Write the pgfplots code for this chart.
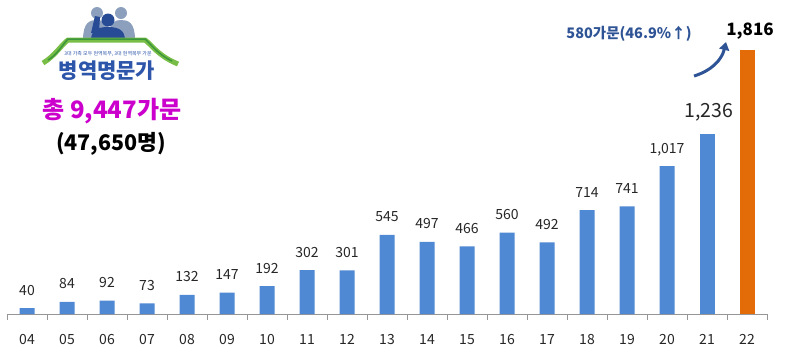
\documentclass[border=0pt]{standalone}
\usepackage{pgfplots}
\pgfplotsset{compat=1.18}
\usepackage{fontspec}
\setmainfont{Noto Sans CJK KR}
\usetikzlibrary{arrows.meta}
\definecolor{barblue}{RGB}{80,137,211}
\definecolor{barorange}{RGB}{227,108,9}
\definecolor{axgray}{RGB}{150,150,150}
\definecolor{lblgray}{RGB}{38,38,38}
\definecolor{annblue}{RGB}{47,84,150}
\definecolor{logoblue}{RGB}{45,85,170}
\definecolor{magenta2}{RGB}{204,0,204}
\definecolor{roofgreen}{RGB}{120,190,70}
\definecolor{roofdark}{RGB}{60,150,60}
\definecolor{figgray}{RGB}{140,160,190}
\definecolor{figblue}{RGB}{40,75,150}
\begin{document}
\begin{tikzpicture}[x=1bp,y=1bp]
\useasboundingbox (0,0) rectangle (788,-352);
% logo decoration
\fill[figgray] (97,-13) circle (6);
\fill[figgray] (121,-13) circle (6);
\fill[figgray] (83,-40) .. controls (83,-22) and (90,-20) .. (97,-20) .. controls (104,-20) and (108,-24) .. (109,-30) -- (110,-40) -- cycle;
\fill[figgray] (108,-40) -- (109,-30) .. controls (112,-22) and (115,-20) .. (121,-20) .. controls (128,-20) and (135,-22) .. (135,-40) -- cycle;
\fill[figblue] (108,-20) circle (6.5);
\fill[figblue] (91,-40) .. controls (91,-30) and (98,-27) .. (108,-27) .. controls (118,-27) and (125,-30) .. (125,-40) -- cycle;
\fill[figblue] (91,-33) -- (95,-16) -- (100,-17) -- (99,-32) -- cycle;
\draw[roofgreen, line width=5bp] (43,-63) .. controls (55,-56) and (62,-44) .. (68,-40) -- (145,-40) .. controls (151,-44) and (158,-56) .. (178,-64);
\draw[roofdark, line width=1.5bp] (48,-60) .. controls (57,-55) and (63,-44) .. (68,-39) -- (145,-39) .. controls (151,-44) and (157,-54) .. (172,-61);
\node[font=\fontsize{5bp}{6bp}\selectfont, text=logoblue] at (108,-54) {3대 가족 모두 현역복무, 3대 현역복무 가문};
\node[font=\fontsize{21bp}{24bp}\selectfont\bfseries, text=logoblue] at (107,-71) {병역명문가};
\node[font=\fontsize{24bp}{28bp}\selectfont\bfseries, text=magenta2] at (112,-111) {총 9,447가문};
\node[font=\fontsize{21.5bp}{25bp}\selectfont\bfseries, text=black] at (111,-144) {(47,650명)};
% annotation
\node[font=\fontsize{14.5bp}{17bp}\selectfont\bfseries, text=annblue] at (629,-34) {580가문(46.9\%↑)};
\draw[annblue, line width=3bp, -{Triangle[length=8bp,width=10bp]}] (694,-76) to[bend right=30] (726,-42);
\begin{axis}[
  at={(7bp,-314bp)}, anchor=south west,
  scale only axis, width=760bp, height=290.7bp,
  xmin=-0.5, xmax=18.5, ymin=0, ymax=2000,
  axis x line*=bottom, axis y line=none,
  x axis line style={axgray, line width=0.8bp, -},
  xtick={0,...,18},
  xticklabels={04,05,06,07,08,09,10,11,12,13,14,15,16,17,18,19,20,21,22},
  minor xtick={-0.5,0.5,...,18.5},
  major tick length=0pt, minor tick length=6bp, tick align=outside,
  minor tick style={axgray, line width=0.8bp},
  ytick=\empty,
  xticklabel style={anchor=base, yshift=-30bp, font=\fontsize{14bp}{16bp}\selectfont, text=lblgray},
  /pgf/number format/.cd, fixed, precision=0, 1000 sep={,}, assume math mode=true,
  /pgfplots/.cd,
  ybar, bar width=15bp, bar shift=0pt,
  nodes near coords,
  clip=false,
]
\addplot[fill=barblue, draw=none,
  nodes near coords style={anchor=base, yshift=13bp, font=\fontsize{14bp}{16bp}\selectfont, text=lblgray}]
coordinates {(0,40) (1,84) (2,92) (3,73) (4,132) (5,147) (6,192) (7,302) (8,301) (9,545) (10,497) (11,466) (12,560) (13,492) (14,714) (15,741) (16,1017)};
\addplot[fill=barblue, draw=none,
  nodes near coords style={anchor=base, yshift=17bp, xshift=2bp, font=\fontsize{19.5bp}{22bp}\selectfont, text=lblgray}]
coordinates {(17,1236)};
\addplot[fill=barorange, draw=none,
  nodes near coords style={anchor=base, yshift=15bp, xshift=3bp, font=\fontsize{17bp}{20bp}\selectfont\bfseries, text=black}]
coordinates {(18,1816)};
\end{axis}
\end{tikzpicture}
\end{document}
